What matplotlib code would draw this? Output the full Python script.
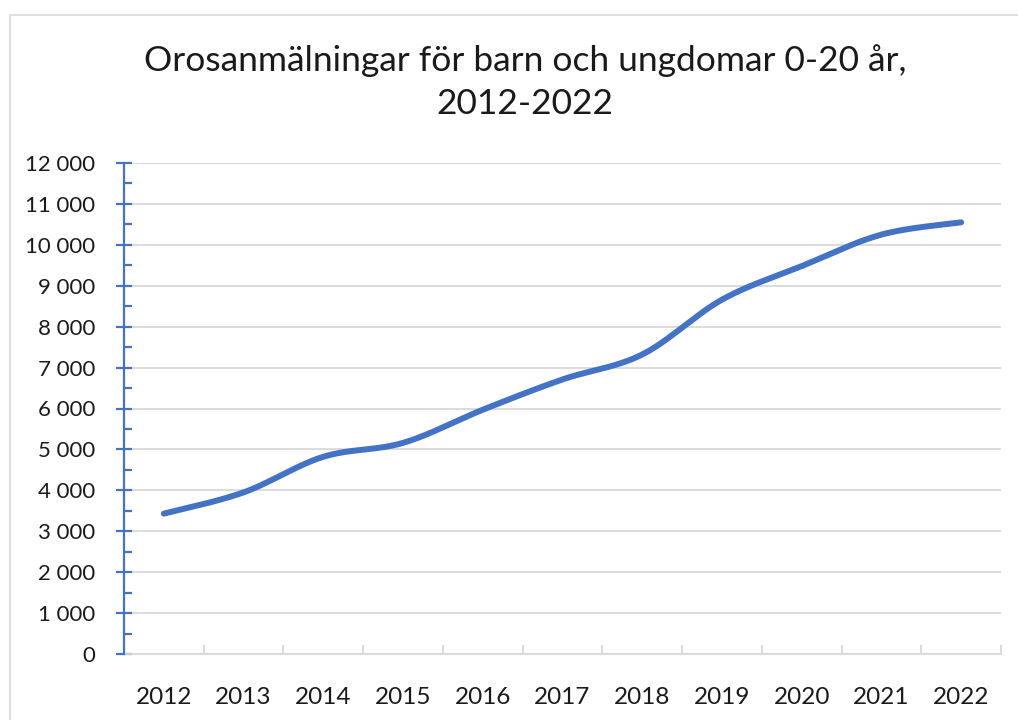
import numpy as np
import matplotlib
matplotlib.use("Agg")
import matplotlib.pyplot as plt
from matplotlib.ticker import MultipleLocator, FuncFormatter
from matplotlib.patches import Rectangle

years = ["2012", "2013", "2014", "2015", "2016", "2017", "2018", "2019", "2020", "2021", "2022"]
values = [3430, 3950, 4820, 5160, 5970, 6710, 7320, 8660, 9480, 10250, 10550]
title = "Orosanmälningar för barn och ungdomar 0-20 år,\n2012-2022"

BLUE = "#4472C4"
GRID = "#D9D9D9"
FONT = ["Lato", "DejaVu Sans"]
plt.rcParams['font.family'] = FONT

W, H = 1018, 720
fig = plt.figure(figsize=(W / 100, H / 100), dpi=100)

# outer chart frame
fig.patches.append(Rectangle((9.5 / W, -0.01), 1.1, (H - 15) / H + 0.01, transform=fig.transFigure,
                             fill=False, edgecolor=GRID, linewidth=1.2))

x0, x1, y0, y1 = 124, 1001, 654, 163
ax = fig.add_axes([x0 / W, 1 - y0 / H, (x1 - x0) / W, (y0 - y1) / H])

n = len(values)
xs = np.arange(n, dtype=float)
ys = np.array(values, dtype=float)

# Excel-style smoothed line (cubic Bezier with Catmull-Rom control points)
def smooth(xp, yp, steps=60):
    P = np.column_stack([xp, yp])
    out = []
    for i in range(len(P) - 1):
        pm = P[i - 1] if i > 0 else P[i]
        p0, p1 = P[i], P[i + 1]
        p2 = P[i + 2] if i + 2 < len(P) else P[i + 1]
        c1 = p0 + (p1 - pm) / 6.0
        c2 = p1 - (p2 - p0) / 6.0
        t = np.linspace(0, 1, steps)[:, None]
        seg = ((1 - t) ** 3) * p0 + 3 * ((1 - t) ** 2) * t * c1 + 3 * (1 - t) * t ** 2 * c2 + t ** 3 * p1
        out.append(seg if i == 0 else seg[1:])
    return np.vstack(out)

curve = smooth(xs, ys)
ax.plot(curve[:, 0], curve[:, 1], color=BLUE, linewidth=4.3, solid_capstyle="round", zorder=3)

ax.set_xlim(-0.5, n - 0.5)
ax.set_ylim(0, 12000)

ax.yaxis.set_major_locator(MultipleLocator(1000))
ax.yaxis.set_minor_locator(MultipleLocator(500))
ax.yaxis.set_major_formatter(FuncFormatter(lambda v, p: f"{int(v):,}".replace(",", " ")))
ax.grid(axis="y", which="major", color=GRID, linewidth=1.3, zorder=0)
ax.set_axisbelow(True)

ax.set_xticks(np.arange(-0.5, n, 1.0))
ax.set_xticklabels([])
ax.set_xticks(xs, minor=True)
ax.set_xticklabels(years, minor=True)

for s in ["top", "right"]:
    ax.spines[s].set_visible(False)
ax.spines["left"].set_color(BLUE)
ax.spines["left"].set_linewidth(1.6)
ax.spines["bottom"].set_color(GRID)
ax.spines["bottom"].set_linewidth(1.3)
ax.spines["left"].set_zorder(4)

ax.tick_params(axis="y", which="major", direction="inout", length=11, width=1.6, color=BLUE,
               labelsize=16, labelcolor="#1a1a1a", pad=15)
ax.tick_params(axis="y", which="minor", direction="in", length=5.5, width=1.6, color=BLUE)
ax.tick_params(axis="x", which="major", direction="in", length=6.5, width=1.3, color=GRID)
ax.tick_params(axis="x", which="minor", length=0, labelsize=17.5, labelcolor="#1a1a1a", pad=24)

fig.text(525 / W, 1 - 82 / H, title, ha="center", va="center", fontsize=25.5, color="#1a1a1a",
         linespacing=1.45)

fig.savefig("out.png", dpi=100)
